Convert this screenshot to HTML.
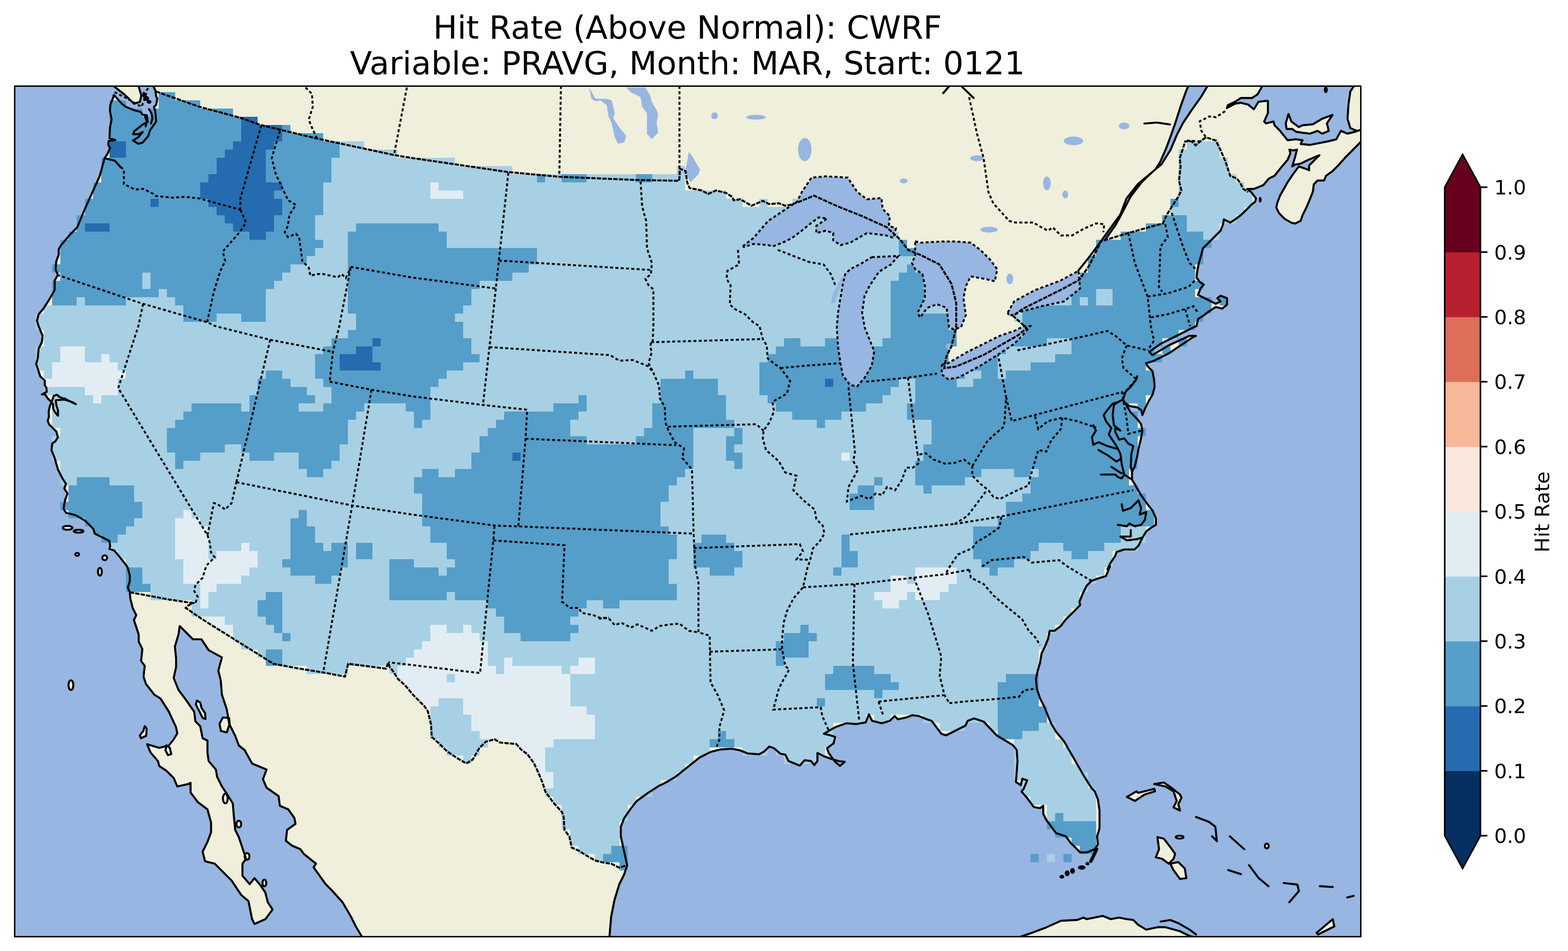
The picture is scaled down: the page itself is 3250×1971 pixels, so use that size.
<!DOCTYPE html>
<html><head><meta charset="utf-8"><style>html,body{margin:0;padding:0;background:#fff;overflow:hidden}svg{display:block}</style></head>
<body>
<svg xmlns="http://www.w3.org/2000/svg" width="3250" height="1971" viewBox="0 0 3250 1971">
<rect width="3250" height="1971" fill="#fff"/>
<g font-family="DejaVu Sans, Liberation Sans, sans-serif" font-size="66.67" text-anchor="middle" fill="#000">
<text x="1425" y="80">Hit Rate (Above Normal): CWRF</text>
<text x="1425" y="154">Variable: PRAVG, Month: MAR, Start: 0121</text>
</g>
<clipPath id="ax"><rect x="30.4" y="178.5" width="2790.1" height="1762.8"/></clipPath>
<g clip-path="url(#ax)">
<rect x="30.4" y="178.5" width="2790.1" height="1762.8" fill="#efefdb"/>
<path fill="#97b6e1" d="M25.4 173.5 L235.0 178.0 L257.0 195.0 L278.0 215.0 L290.0 211.0 L293.0 198.0 L287.0 178.0 L317.5 178.0 L321.8 186.7 L323.6 199.8 L326.2 204.1 L323.6 217.2 L319.2 221.5 L321.8 230.2 L323.6 252.0 L317.5 260.7 L311.4 269.4 L307.0 282.4 L295.7 295.5 L287.0 298.1 L275.7 291.1 L287.0 284.2 L295.7 273.7 L287.0 278.1 L275.7 278.1 L278.3 272.0 L295.7 258.1 L306.2 252.8 L304.4 238.9 L295.7 238.0 L291.4 232.0 L278.3 228.5 L260.9 221.5 L252.2 214.6 L236.6 197.1 L236.6 197.1 L228.7 217.2 L227.9 230.2 L231.3 247.6 L227.9 265.0 L227.0 286.8 L239.2 290.3 L225.2 292.0 L224.4 299.8 L227.9 306.8 L223.3 318.0 L216.7 328.0 L206.7 364.7 L193.3 394.7 L176.7 431.3 L160.0 471.3 L146.7 484.7 L126.7 508.0 L121.7 516.3 L121.7 528.0 L116.7 541.3 L115.0 558.0 L120.0 569.7 L113.3 581.3 L113.3 601.3 L101.7 621.3 L90.0 639.7 L80.0 651.3 L76.7 664.7 L80.0 676.0 L88.3 696.0 L86.7 709.3 L80.0 722.7 L78.3 742.7 L75.0 754.3 L83.4 780.0 L92.8 788.7 L92.8 798.7 L96.1 803.4 L96.8 812.1 L86.7 817.5 L93.4 817.5 L98.8 825.5 L106.8 833.5 L102.8 843.6 L100.8 853.6 L101.5 863.7 L98.8 872.4 L102.1 880.0 L105.0 882.7 L116.7 894.3 L120.0 906.0 L115.0 914.3 L108.3 919.3 L106.7 932.7 L113.3 949.3 L120.0 972.7 L130.0 992.7 L136.7 1002.7 L133.3 1012.7 L140.0 1022.7 L135.0 1036.0 L131.7 1054.3 L136.7 1062.7 L156.7 1067.7 L176.7 1079.3 L193.3 1096.0 L196.7 1106.0 L210.0 1112.7 L226.7 1121.0 L228.3 1132.7 L226.7 1137.7 L236.7 1141.0 L246.7 1152.7 L260.0 1169.3 L263.3 1174.0 L265.0 1177.5 L269.0 1192.5 L269.0 1205.0 L265.0 1217.5 L269.0 1227.5 L270.0 1240.0 L275.0 1260.0 L282.5 1275.0 L277.5 1285.0 L287.5 1315.0 L287.5 1330.0 L295.0 1345.0 L292.5 1370.0 L300.0 1380.0 L297.5 1402.5 L302.5 1417.5 L320.0 1440.0 L332.5 1447.5 L350.0 1475.0 L365.0 1507.5 L367.5 1520.0 L360.0 1532.5 L350.0 1545.0 L330.0 1550.0 L305.0 1542.5 L310.0 1555.0 L312.5 1560.0 L327.5 1577.5 L330.0 1587.5 L345.0 1597.5 L360.0 1612.5 L367.5 1630.0 L390.0 1625.0 L395.0 1622.5 L395.0 1642.5 L410.0 1662.5 L430.0 1677.5 L437.5 1705.0 L437.5 1725.0 L430.0 1745.0 L420.0 1765.0 L425.0 1785.0 L445.0 1790.0 L465.0 1810.0 L480.0 1825.0 L500.0 1855.0 L515.0 1867.5 L522.5 1905.0 L527.5 1915.0 L550.0 1905.0 L565.0 1885.0 L555.0 1870.0 L550.0 1850.0 L540.0 1835.0 L527.5 1820.0 L517.5 1832.5 L502.5 1815.0 L502.5 1790.0 L510.0 1780.0 L495.0 1735.0 L487.5 1720.0 L485.0 1695.0 L482.5 1665.0 L470.0 1645.0 L460.0 1630.0 L450.0 1610.0 L447.5 1595.0 L432.5 1577.5 L430.0 1560.0 L430.0 1535.0 L420.0 1530.0 L415.0 1505.0 L405.0 1495.0 L402.5 1475.0 L385.0 1450.0 L370.0 1430.0 L360.0 1405.0 L365.0 1382.5 L365.0 1365.0 L362.5 1340.0 L370.0 1315.0 L372.5 1297.5 L380.0 1305.0 L400.0 1325.0 L417.5 1325.0 L432.5 1347.5 L460.0 1362.5 L452.5 1390.0 L457.5 1410.0 L460.0 1440.0 L470.0 1470.0 L472.5 1485.0 L475.0 1500.0 L487.5 1525.0 L495.0 1545.0 L507.5 1555.0 L510.0 1560.0 L522.5 1582.5 L552.5 1595.0 L545.0 1615.0 L552.5 1632.5 L577.5 1650.0 L580.0 1670.0 L597.5 1677.5 L610.0 1695.0 L612.5 1707.5 L595.0 1720.0 L592.5 1742.5 L605.0 1752.5 L622.5 1760.0 L630.0 1770.0 L655.0 1790.0 L650.0 1797.5 L662.5 1815.0 L675.0 1832.5 L687.5 1845.0 L710.0 1870.0 L727.5 1900.0 L737.5 1920.0 L750.0 1941.0 L752.0 1946.3 L25.4 1946.3Z M1263.3 1941.0 L1266.7 1900.0 L1273.3 1866.7 L1283.3 1833.3 L1293.3 1813.3 L1300.0 1793.3 L1293.3 1763.3 L1286.7 1733.3 L1286.7 1713.3 L1293.3 1696.7 L1306.7 1676.7 L1320.0 1660.0 L1343.3 1643.3 L1366.7 1628.3 L1383.3 1620.0 L1400.0 1610.0 L1416.7 1596.7 L1433.3 1583.3 L1450.0 1570.0 L1473.3 1558.3 L1493.3 1553.3 L1516.7 1551.7 L1533.3 1555.0 L1550.0 1561.7 L1573.3 1563.3 L1584.3 1557.3 L1594.3 1547.3 L1604.3 1550.7 L1617.7 1562.3 L1627.7 1564.0 L1634.3 1577.3 L1657.7 1586.7 L1667.7 1575.7 L1681.0 1577.3 L1687.7 1585.7 L1694.3 1577.3 L1694.3 1560.7 L1707.7 1567.3 L1721.0 1572.3 L1737.7 1577.3 L1751.0 1579.0 L1741.0 1587.3 L1731.0 1579.0 L1717.7 1560.7 L1714.3 1550.7 L1727.7 1540.7 L1731.0 1527.3 L1721.0 1524.0 L1707.7 1520.7 L1731.0 1507.3 L1754.3 1499.0 L1774.3 1500.7 L1794.3 1497.3 L1801.0 1480.7 L1807.7 1494.0 L1827.7 1499.0 L1844.3 1494.0 L1854.3 1484.0 L1861.0 1490.7 L1877.7 1487.3 L1891.0 1482.3 L1904.3 1484.0 L1921.0 1490.7 L1931.0 1494.0 L1941.0 1507.3 L1951.0 1520.7 L1961.0 1524.0 L1981.0 1514.0 L2001.0 1504.0 L2005.7 1494.0 L2019.0 1489.0 L2039.0 1495.7 L2065.7 1524.0 L2082.3 1534.0 L2099.0 1544.0 L2107.3 1554.0 L2109.0 1577.3 L2107.3 1600.7 L2105.7 1620.7 L2115.7 1627.3 L2119.0 1614.0 L2129.0 1617.3 L2122.3 1634.0 L2117.3 1640.7 L2129.0 1654.0 L2142.3 1672.0 L2145.7 1673.3 L2155.7 1675.0 L2162.3 1670.0 L2162.3 1686.7 L2169.0 1700.0 L2179.0 1713.3 L2189.0 1726.7 L2209.0 1733.3 L2219.0 1746.7 L2232.3 1760.0 L2239.0 1766.7 L2252.3 1766.7 L2269.0 1760.0 L2275.7 1750.0 L2274.0 1733.3 L2279.0 1716.7 L2279.0 1680.0 L2275.7 1656.7 L2269.0 1640.0 L2262.3 1633.3 L2245.7 1606.7 L2232.3 1583.3 L2219.0 1560.0 L2205.7 1536.7 L2189.0 1516.7 L2179.0 1500.0 L2172.3 1484.0 L2165.7 1467.3 L2155.7 1447.3 L2149.0 1427.3 L2147.3 1407.3 L2150.7 1390.7 L2155.7 1374.0 L2159.0 1354.0 L2165.7 1340.7 L2172.3 1324.0 L2175.7 1307.3 L2185.7 1307.3 L2199.0 1297.3 L2209.0 1284.0 L2222.3 1270.7 L2239.0 1254.0 L2237.3 1247.3 L2244.0 1230.7 L2252.3 1214.0 L2262.3 1204.0 L2275.7 1199.0 L2292.3 1194.0 L2300.7 1174.0 L2295.5 1180.0 L2300.9 1168.2 L2311.6 1152.2 L2314.3 1144.1 L2330.3 1138.8 L2351.7 1138.8 L2359.8 1130.7 L2367.8 1114.7 L2375.8 1101.3 L2386.5 1093.3 L2395.9 1087.9 L2395.9 1074.5 L2389.2 1058.5 L2378.5 1045.1 L2365.1 1026.3 L2354.4 1007.6 L2346.4 994.2 L2346.4 978.1 L2351.7 967.4 L2357.1 946.0 L2359.8 929.9 L2365.1 908.5 L2367.8 892.4 L2365.1 879.1 L2357.1 868.4 L2343.7 855.0 L2335.7 841.6 L2327.6 828.2 L2330.3 833.5 L2341.0 841.6 L2357.1 844.3 L2365.1 849.6 L2367.8 860.3 L2373.2 846.9 L2381.2 830.9 L2389.2 817.5 L2393.2 801.4 L2392.0 786.0 L2388.7 769.3 L2378.7 759.3 L2375.3 752.7 L2392.0 747.7 L2422.0 732.7 L2472.0 699.3 L2478.7 696.0 L2465.3 696.0 L2422.0 716.0 L2388.7 736.0 L2382.0 729.3 L2405.3 712.7 L2438.7 696.0 L2478.7 676.0 L2480.0 676.0 L2483.3 661.3 L2493.3 654.7 L2506.7 644.7 L2520.0 636.3 L2533.3 639.7 L2543.3 631.3 L2543.3 618.0 L2530.0 613.0 L2523.3 618.0 L2530.0 624.7 L2520.0 629.7 L2510.0 624.7 L2496.7 618.0 L2483.3 611.3 L2488.3 598.0 L2495.0 589.7 L2486.7 584.7 L2480.0 574.7 L2481.7 561.3 L2485.0 544.7 L2490.0 528.0 L2493.3 514.7 L2500.0 508.0 L2510.0 498.0 L2520.0 488.0 L2530.0 478.0 L2535.0 464.7 L2536.7 454.7 L2550.0 461.3 L2560.0 454.7 L2573.3 444.7 L2583.3 434.7 L2593.3 424.7 L2601.7 418.0 L2603.3 411.3 L2593.3 398.0 L2585.2 391.6 L2598.8 391.6 L2618.3 383.8 L2629.9 370.2 L2641.6 364.4 L2657.1 345.0 L2668.7 331.4 L2674.6 317.8 L2672.6 310.0 L2680.4 312.0 L2688.2 310.0 L2684.3 325.6 L2678.4 345.0 L2684.3 341.1 L2695.9 339.2 L2711.5 331.4 L2734.8 321.7 L2725.0 331.4 L2713.4 343.0 L2713.4 352.8 L2703.7 348.9 L2692.0 345.0 L2680.4 360.5 L2668.7 378.0 L2661.0 391.6 L2653.2 405.2 L2647.4 420.7 L2645.4 430.4 L2651.3 442.1 L2662.9 453.7 L2676.5 461.5 L2684.3 463.4 L2695.9 457.6 L2699.8 446.0 L2707.6 430.4 L2713.4 416.8 L2721.2 397.4 L2723.1 381.9 L2730.9 374.1 L2744.5 374.1 L2748.3 364.4 L2761.9 354.7 L2773.6 343.0 L2789.1 325.6 L2804.7 310.0 L2820.0 294.5 L2825.5 291.0 L2825.5 1946.3 L1263.0 1946.3Z M2699.8 290.6 L2686.2 288.7 L2668.7 290.6 L2653.2 271.2 L2641.6 259.6 L2639.6 251.8 L2624.1 255.7 L2620.2 251.8 L2628.0 234.3 L2628.0 209.1 L2624.1 209.1 L2608.5 211.0 L2598.8 226.5 L2587.2 216.8 L2571.7 213.0 L2560.0 214.9 L2543.0 224.0 L2545.0 218.0 L2560.0 211.0 L2571.7 203.2 L2595.0 203.2 L2606.6 195.5 L2614.4 181.9 L2616.3 178.0 L2806.6 178.0 L2798.8 189.7 L2795.0 216.8 L2793.0 246.0 L2798.8 265.4 L2812.4 271.2 L2820.0 269.3 L2808.5 273.1 L2793.0 277.0 L2779.4 271.2 L2769.7 288.7 L2754.2 292.6 L2734.8 296.5 L2715.3 300.3 L2695.9 298.4Z M2282.0 500.0 L2305.0 468.0 L2322.0 445.0 L2335.0 411.0 L2359.0 381.0 L2372.0 370.0 L2395.0 351.0 L2405.0 335.0 L2418.0 305.0 L2428.0 278.0 L2436.0 255.0 L2448.0 218.0 L2458.0 190.0 L2463.0 178.0 L2503.0 178.0 L2490.0 200.0 L2470.0 228.0 L2452.0 255.0 L2440.0 278.0 L2426.0 311.0 L2407.0 341.0 L2390.0 355.0 L2366.0 378.0 L2343.0 408.0 L2326.0 441.0 L2313.0 465.0 L2290.0 498.0Z"/>
<path fill="#efefdb" d="M2670.7 236.3 L2676.5 251.8 L2692.0 263.4 L2699.8 259.6 L2721.2 257.6 L2740.6 246.0 L2761.9 238.3 L2750.3 255.7 L2754.2 271.2 L2740.6 277.0 L2730.9 271.2 L2715.3 277.0 L2699.8 275.1 L2686.2 273.1 L2678.4 267.3 L2666.8 267.3 L2664.9 255.7Z M2335.7 1651.7 L2352.3 1660.0 L2372.3 1646.7 L2394.0 1640.0 L2392.3 1635.0 L2359.0 1643.3 L2355.7 1640.0Z M2392.3 1625.0 L2412.3 1621.7 L2429.0 1633.3 L2445.7 1646.7 L2449.0 1653.3 L2442.3 1666.7 L2445.7 1680.0 L2432.3 1673.3 L2439.0 1660.0 L2432.3 1640.0 L2415.7 1630.0Z M2399.0 1735.0 L2412.3 1738.3 L2429.0 1760.0 L2435.7 1770.0 L2432.3 1780.0 L2422.3 1790.0 L2409.0 1780.0 L2395.7 1776.7 L2402.3 1760.0Z M2425.7 1790.0 L2442.3 1786.7 L2455.7 1800.0 L2459.0 1820.0 L2445.7 1821.7 L2432.3 1803.3Z M2729.0 1933.3 L2762.3 1905.0 L2765.7 1920.0 L2732.3 1936.7Z M2115.7 1941.3 L2139.0 1933.3 L2165.7 1923.3 L2199.0 1908.3 L2232.3 1906.7 L2245.7 1901.7 L2252.3 1905.0 L2285.7 1898.3 L2302.3 1905.0 L2319.0 1901.7 L2335.7 1905.0 L2349.0 1906.7 L2359.0 1916.7 L2375.7 1926.7 L2399.0 1921.7 L2415.7 1921.7 L2445.7 1930.0 L2465.7 1940.0 L2472.3 1941.3 L2472.0 1960.0 L2115.0 1960.0Z M462.0 1487.0 L475.0 1488.0 L476.0 1500.0 L470.0 1518.0 L458.0 1515.0 L455.0 1500.0Z M408.0 1452.0 L415.0 1456.0 L418.0 1468.0 L425.0 1478.0 L426.0 1490.0 L420.0 1488.0 L412.0 1472.0 L406.0 1460.0Z M300.0 1505.0 L304.0 1510.0 L303.0 1525.0 L292.0 1530.0 L290.0 1524.0 L297.0 1515.0Z M345.0 1545.0 L352.0 1550.0 L355.0 1563.0 L348.0 1565.0 L343.0 1555.0Z M142 1420a5 10 0 1 0 10 0a5 10 0 1 0 -10 0Z M130 1094a10 4 0 1 0 20 0a10 4 0 1 0 -20 0Z M153 1101a10 3 0 1 0 20 0a10 3 0 1 0 -20 0Z M156 1149a4 3 0 1 0 8 0a4 3 0 1 0 -8 0Z M212 1156a5 5 0 1 0 10 0a5 5 0 1 0 -10 0Z M203 1185a4 8 0 1 0 8 0a4 8 0 1 0 -8 0Z M462 1655a5 10 0 1 0 10 0a5 10 0 1 0 -10 0Z M490 1708a5 7 0 1 0 10 0a5 7 0 1 0 -10 0Z M507 1775a5 7 0 1 0 10 0a5 7 0 1 0 -10 0Z M544 1830a4 7 0 1 0 8 0a4 7 0 1 0 -8 0Z M2437 1735a8 3 0 1 0 16 0a8 3 0 1 0 -16 0Z M2621.7 1753.3a4 5 0 1 0 8 0a4 5 0 1 0 -8 0Z"/>
<path fill="#256baf" d="M500 242h34v17h-34zM500 259h85v17h-85zM500 276h85v17h-85zM227 293h34v17h-34zM483 293h85v17h-85zM227 310h34v17h-34zM466 310h85v17h-85zM449 327h102v17h-102zM449 344h102v17h-102zM432 361h119v17h-119zM415 378h170v17h-170zM415 395h153v17h-153zM312 412h17v17h-17zM432 412h153v17h-153zM449 429h136v17h-136zM466 446h102v17h-102zM176 463h51v17h-51zM483 463h85v17h-85zM517 480h34v17h-34zM772 701h17v17h-17zM738 718h34v16h-34zM704 734h68v17h-68zM704 751h85v17h-85zM1710 785h17v17h-17zM1062 938h17v17h-17z"/>
<path fill="#559ec9" d="M329 191h34v17h-34zM227 208h34v17h-34zM329 208h86v17h-86zM227 225h68v17h-68zM312 225h171v17h-171zM227 242h273v17h-273zM227 259h273v17h-273zM585 259h17v17h-17zM227 276h273v17h-273zM585 276h85v17h-85zM261 293h222v17h-222zM568 293h136v17h-136zM261 310h205v17h-205zM551 310h153v17h-153zM210 327h239v17h-239zM551 327h136v17h-136zM210 344h239v17h-239zM551 344h136v17h-136zM210 361h222v17h-222zM551 361h136v17h-136zM1113 361h17v17h-17zM1164 361h52v17h-52zM1318 361h34v17h-34zM193 378h222v17h-222zM585 378h85v17h-85zM193 395h222v17h-222zM568 395h102v17h-102zM176 412h136v17h-136zM329 412h103v17h-103zM585 412h85v17h-85zM2426 412h17v17h-17zM176 429h273v17h-273zM585 429h85v17h-85zM159 446h307v17h-307zM568 446h85v17h-85zM2409 446h51v17h-51zM159 463h17v17h-17zM227 463h256v17h-256zM568 463h85v17h-85zM738 463h171v17h-171zM2375 463h85v17h-85zM142 480h375v17h-375zM551 480h102v17h-102zM721 480h205v17h-205zM2323 480h171v17h-171zM125 497h545v17h-545zM721 497h205v17h-205zM1863 497h17v17h-17zM2272 497h239v17h-239zM125 514h528v17h-528zM721 514h392v17h-392zM1863 514h34v17h-34zM2272 514h222v17h-222zM125 531h511v17h-511zM721 531h392v17h-392zM2255 531h239v17h-239zM108 548h494v17h-494zM721 548h375v17h-375zM1880 548h17v17h-17zM2255 548h222v17h-222zM125 565h170v17h-170zM312 565h273v17h-273zM721 565h341v17h-341zM1863 565h51v17h-51zM2238 565h239v17h-239zM108 582h187v17h-187zM312 582h256v17h-256zM721 582h273v17h-273zM1846 582h68v17h-68zM2238 582h256v17h-256zM108 599h221v17h-221zM346 599h205v17h-205zM721 599h256v17h-256zM1846 599h85v17h-85zM2221 599h51v17h-51zM2306 599h171v17h-171zM108 616h51v17h-51zM176 616h85v17h-85zM363 616h188v17h-188zM721 616h256v17h-256zM1846 616h68v17h-68zM2221 616h17v17h-17zM2255 616h17v17h-17zM2306 616h205v17h-205zM2528 616h17v17h-17zM380 633h171v17h-171zM721 633h239v17h-239zM1846 633h68v17h-68zM2119 633h392v17h-392zM380 650h69v17h-69zM500 650h51v17h-51zM738 650h205v17h-205zM1846 650h120v17h-120zM2119 650h375v17h-375zM738 667h222v17h-222zM1846 667h120v17h-120zM2119 667h358v17h-358zM721 684h239v17h-239zM1744 684h51v17h-51zM1846 684h137v17h-137zM2119 684h324v17h-324zM687 701h85v17h-85zM789 701h188v17h-188zM1625 701h34v17h-34zM1710 701h85v17h-85zM1829 701h154v17h-154zM2085 701h85v17h-85zM2221 701h188v17h-188zM2443 701h17v17h-17zM670 718h68v16h-68zM772 718h205v16h-205zM1608 718h358v16h-358zM2051 718h34v16h-34zM2221 718h171v16h-171zM2409 718h17v16h-17zM653 734h51v17h-51zM772 734h222v17h-222zM1591 734h375v17h-375zM2017 734h51v17h-51zM2187 734h222v17h-222zM653 751h51v17h-51zM789 751h171v17h-171zM1574 751h392v17h-392zM1983 751h85v17h-85zM2136 751h239v17h-239zM551 768h34v17h-34zM653 768h273v17h-273zM1420 768h17v17h-17zM1574 768h426v17h-426zM2034 768h34v17h-34zM2085 768h307v17h-307zM534 785h68v17h-68zM670 785h239v17h-239zM1369 785h119v17h-119zM1574 785h136v17h-136zM1727 785h136v17h-136zM1897 785h86v17h-86zM2017 785h375v17h-375zM534 802h102v17h-102zM687 802h205v17h-205zM1369 802h119v17h-119zM1574 802h272v17h-272zM1897 802h495v17h-495zM517 819h136v17h-136zM687 819h205v17h-205zM1199 819h17v17h-17zM1369 819h136v17h-136zM1591 819h238v17h-238zM1897 819h478v17h-478zM397 836h103v17h-103zM517 836h102v17h-102zM670 836h85v17h-85zM841 836h51v17h-51zM1147 836h69v17h-69zM1352 836h153v17h-153zM1608 836h187v17h-187zM1880 836h460v17h-460zM2358 836h17v17h-17zM380 853h358v17h-358zM858 853h34v17h-34zM1045 853h154v17h-154zM1352 853h153v17h-153zM1642 853h102v17h-102zM1880 853h478v17h-478zM363 870h358v17h-358zM858 870h17v17h-17zM1028 870h154v17h-154zM1352 870h170v17h-170zM1693 870h17v17h-17zM1931 870h427v17h-427zM346 887h375v17h-375zM1011 887h171v17h-171zM1335 887h102v17h-102zM1522 887h17v17h-17zM1931 887h444v17h-444zM346 904h375v17h-375zM994 904h222v17h-222zM1318 904h119v17h-119zM1505 904h34v17h-34zM1931 904h427v17h-427zM346 921h120v17h-120zM500 921h204v17h-204zM994 921h443v17h-443zM1505 921h17v17h-17zM1914 921h444v17h-444zM363 938h52v17h-52zM517 938h51v17h-51zM619 938h85v17h-85zM977 938h85v17h-85zM1079 938h358v17h-358zM1505 938h34v17h-34zM1914 938h444v17h-444zM363 955h17v17h-17zM619 955h68v17h-68zM977 955h460v17h-460zM1522 955h17v17h-17zM1897 955h461v17h-461zM636 972h34v17h-34zM875 972h34v17h-34zM943 972h477v17h-477zM1897 972h137v17h-137zM2102 972h34v17h-34zM2153 972h187v17h-187zM159 989h68v17h-68zM858 989h545v17h-545zM1812 989h17v17h-17zM1897 989h103v17h-103zM2136 989h204v17h-204zM142 1006h136v17h-136zM858 1006h528v17h-528zM1778 1006h34v17h-34zM1914 1006h17v17h-17zM2136 1006h222v17h-222zM142 1023h136v17h-136zM875 1023h511v17h-511zM1761 1023h51v17h-51zM2119 1023h256v17h-256zM125 1040h170v17h-170zM875 1040h494v17h-494zM1761 1040h51v17h-51zM2085 1040h290v17h-290zM142 1057h153v17h-153zM619 1057h17v17h-17zM875 1057h494v17h-494zM2085 1057h307v17h-307zM176 1074h102v17h-102zM602 1074h34v17h-34zM875 1074h494v17h-494zM2068 1074h324v17h-324zM193 1091h68v17h-68zM602 1091h51v17h-51zM892 1091h494v17h-494zM2017 1091h306v17h-306zM210 1108h34v17h-34zM602 1108h51v17h-51zM892 1108h511v17h-511zM1454 1108h51v17h-51zM1744 1108h17v17h-17zM2017 1108h306v17h-306zM602 1125h68v17h-68zM687 1125h34v17h-34zM738 1125h34v17h-34zM926 1125h477v17h-477zM1437 1125h85v17h-85zM1744 1125h17v17h-17zM2017 1125h136v17h-136zM2204 1125h85v17h-85zM602 1142h119v17h-119zM738 1142h34v17h-34zM926 1142h477v17h-477zM1437 1142h102v17h-102zM1744 1142h34v17h-34zM2017 1142h119v17h-119zM2221 1142h34v17h-34zM585 1159h136v17h-136zM807 1159h51v17h-51zM943 1159h443v17h-443zM1437 1159h102v17h-102zM1744 1159h34v17h-34zM2034 1159h68v17h-68zM261 1176h34v17h-34zM602 1176h102v17h-102zM807 1176h102v17h-102zM926 1176h460v17h-460zM1471 1176h51v17h-51zM1727 1176h17v17h-17zM2051 1176h17v17h-17zM261 1193h34v17h-34zM653 1193h34v17h-34zM807 1193h579v17h-579zM261 1210h51v17h-51zM807 1210h596v17h-596zM551 1227h34v17h-34zM807 1227h119v17h-119zM943 1227h460v17h-460zM534 1244h51v17h-51zM1011 1244h205v17h-205zM1250 1244h34v17h-34zM534 1261h51v17h-51zM1028 1261h171v17h-171zM551 1278h34v17h-34zM1045 1278h137v17h-137zM568 1295h17v17h-17zM1045 1295h154v17h-154zM1659 1295h17v17h-17zM585 1312h17v17h-17zM1079 1312h103v17h-103zM1625 1312h68v17h-68zM1608 1329h68v17h-68zM551 1346h34v17h-34zM1608 1346h68v17h-68zM551 1363h34v17h-34zM1608 1363h17v17h-17zM1727 1380h85v17h-85zM1710 1397h136v17h-136zM2085 1397h68v17h-68zM1710 1414h153v16h-153zM2068 1414h85v16h-85zM1812 1430h17v17h-17zM2068 1430h85v17h-85zM1693 1447h17v17h-17zM2068 1447h85v17h-85zM2068 1464h102v17h-102zM2068 1481h102v17h-102zM2068 1498h85v17h-85zM1488 1515h17v17h-17zM2068 1515h51v17h-51zM1471 1532h51v17h-51zM2187 1685h17v17h-17zM2170 1702h102v17h-102zM2187 1719h85v17h-85zM2221 1736h51v17h-51zM1267 1753h34v17h-34zM2238 1753h34v17h-34zM1250 1770h51v17h-51zM2136 1770h17v17h-17zM2204 1770h17v17h-17zM1284 1787h17v17h-17z"/>
<path fill="#a7d0e4" d="M704 293h51v17h-51zM2460 293h68v17h-68zM704 310h120v17h-120zM2443 310h85v17h-85zM687 327h256v17h-256zM2443 327h102v17h-102zM687 344h375v17h-375zM1403 344h17v17h-17zM2443 344h102v17h-102zM687 361h426v17h-426zM1130 361h34v17h-34zM1216 361h102v17h-102zM1352 361h68v17h-68zM2443 361h119v17h-119zM670 378h222v17h-222zM909 378h511v17h-511zM2443 378h136v17h-136zM670 395h222v17h-222zM960 395h545v17h-545zM2443 395h153v17h-153zM670 412h869v17h-869zM1574 412h17v17h-17zM1642 412h85v17h-85zM2443 412h153v17h-153zM670 429h1091v17h-1091zM2426 429h153v17h-153zM653 446h1142v17h-1142zM2460 446h102v17h-102zM653 463h85v17h-85zM909 463h937v17h-937zM2460 463h68v17h-68zM653 480h68v17h-68zM926 480h937v17h-937zM2494 480h34v17h-34zM670 497h51v17h-51zM926 497h937v17h-937zM653 514h68v17h-68zM1113 514h750v17h-750zM636 531h85v17h-85zM1113 531h818v17h-818zM602 548h119v17h-119zM1096 548h784v17h-784zM1897 548h51v17h-51zM295 565h17v17h-17zM585 565h136v17h-136zM1062 565h801v17h-801zM1914 565h52v17h-52zM295 582h17v17h-17zM568 582h153v17h-153zM994 582h852v17h-852zM1914 582h52v17h-52zM2221 582h17v17h-17zM329 599h17v17h-17zM551 599h170v17h-170zM977 599h869v17h-869zM1931 599h52v17h-52zM2187 599h34v17h-34zM2272 599h34v17h-34zM159 616h17v17h-17zM261 616h102v17h-102zM551 616h170v17h-170zM977 616h869v17h-869zM1914 616h69v17h-69zM2153 616h68v17h-68zM2238 616h17v17h-17zM2272 616h34v17h-34zM91 633h289v17h-289zM551 633h170v17h-170zM960 633h886v17h-886zM1914 633h69v17h-69zM74 650h306v17h-306zM449 650h51v17h-51zM551 650h187v17h-187zM943 650h903v17h-903zM1966 650h17v17h-17zM2102 650h17v17h-17zM74 667h664v17h-664zM960 667h886v17h-886zM1966 667h17v17h-17zM91 684h630v17h-630zM960 684h784v17h-784zM1795 684h51v17h-51zM91 701h596v17h-596zM977 701h648v17h-648zM1659 701h51v17h-51zM1795 701h34v17h-34zM2170 701h51v17h-51zM74 718h51v16h-51zM176 718h494v16h-494zM977 718h631v16h-631zM2085 718h136v16h-136zM74 734h51v17h-51zM176 734h34v17h-34zM227 734h426v17h-426zM994 734h597v17h-597zM2068 734h119v17h-119zM74 751h34v17h-34zM244 751h409v17h-409zM960 751h614v17h-614zM2068 751h68v17h-68zM91 768h17v17h-17zM261 768h290v17h-290zM585 768h68v17h-68zM926 768h494v17h-494zM1437 768h137v17h-137zM2000 768h34v17h-34zM2068 768h17v17h-17zM244 785h290v17h-290zM602 785h68v17h-68zM909 785h460v17h-460zM1488 785h86v17h-86zM1863 785h34v17h-34zM1983 785h34v17h-34zM91 802h85v17h-85zM244 802h290v17h-290zM636 802h51v17h-51zM892 802h477v17h-477zM1488 802h86v17h-86zM1846 802h51v17h-51zM108 819h85v17h-85zM210 819h307v17h-307zM653 819h34v17h-34zM892 819h307v17h-307zM1216 819h153v17h-153zM1505 819h86v17h-86zM1829 819h68v17h-68zM108 836h289v17h-289zM500 836h17v17h-17zM619 836h51v17h-51zM755 836h86v17h-86zM892 836h255v17h-255zM1216 836h136v17h-136zM1505 836h103v17h-103zM1795 836h85v17h-85zM108 853h272v17h-272zM738 853h120v17h-120zM892 853h153v17h-153zM1199 853h153v17h-153zM1505 853h137v17h-137zM1744 853h136v17h-136zM108 870h255v17h-255zM721 870h137v17h-137zM875 870h153v17h-153zM1182 870h170v17h-170zM1522 870h171v17h-171zM1710 870h221v17h-221zM125 887h221v17h-221zM721 887h290v17h-290zM1182 887h153v17h-153zM1437 887h85v17h-85zM1539 887h392v17h-392zM108 904h238v17h-238zM721 904h273v17h-273zM1216 904h102v17h-102zM1437 904h68v17h-68zM1539 904h392v17h-392zM108 921h238v17h-238zM466 921h34v17h-34zM704 921h290v17h-290zM1437 921h68v17h-68zM1522 921h392v17h-392zM108 938h255v17h-255zM415 938h102v17h-102zM568 938h51v17h-51zM704 938h273v17h-273zM1437 938h68v17h-68zM1539 938h205v17h-205zM1761 938h153v17h-153zM125 955h238v17h-238zM380 955h239v17h-239zM687 955h290v17h-290zM1437 955h85v17h-85zM1539 955h358v17h-358zM125 972h511v17h-511zM670 972h205v17h-205zM909 972h34v17h-34zM1420 972h477v17h-477zM2034 972h68v17h-68zM2136 972h17v17h-17zM125 989h34v17h-34zM227 989h631v17h-631zM1403 989h409v17h-409zM1829 989h68v17h-68zM2000 989h136v17h-136zM278 1006h580v17h-580zM1386 1006h392v17h-392zM1812 1006h102v17h-102zM1931 1006h205v17h-205zM278 1023h597v17h-597zM1386 1023h375v17h-375zM1812 1023h307v17h-307zM295 1040h580v17h-580zM1369 1040h392v17h-392zM1812 1040h273v17h-273zM295 1057h85v17h-85zM397 1057h222v17h-222zM636 1057h239v17h-239zM1369 1057h716v17h-716zM278 1074h85v17h-85zM415 1074h187v17h-187zM636 1074h239v17h-239zM1369 1074h699v17h-699zM261 1091h102v17h-102zM432 1091h170v17h-170zM653 1091h239v17h-239zM1386 1091h631v17h-631zM2323 1091h52v17h-52zM244 1108h119v17h-119zM432 1108h170v17h-170zM653 1108h239v17h-239zM1403 1108h51v17h-51zM1505 1108h239v17h-239zM1761 1108h256v17h-256zM2323 1108h52v17h-52zM227 1125h136v17h-136zM432 1125h68v17h-68zM517 1125h85v17h-85zM670 1125h17v17h-17zM721 1125h17v17h-17zM772 1125h154v17h-154zM1403 1125h34v17h-34zM1522 1125h222v17h-222zM1761 1125h256v17h-256zM2153 1125h51v17h-51zM2289 1125h69v17h-69zM244 1142h119v17h-119zM432 1142h17v17h-17zM534 1142h68v17h-68zM721 1142h17v17h-17zM772 1142h154v17h-154zM1403 1142h34v17h-34zM1539 1142h205v17h-205zM1778 1142h239v17h-239zM2136 1142h85v17h-85zM2255 1142h51v17h-51zM261 1159h119v17h-119zM534 1159h51v17h-51zM721 1159h86v17h-86zM858 1159h85v17h-85zM1386 1159h51v17h-51zM1539 1159h205v17h-205zM1778 1159h256v17h-256zM2102 1159h204v17h-204zM295 1176h85v17h-85zM517 1176h85v17h-85zM704 1176h103v17h-103zM909 1176h17v17h-17zM1386 1176h85v17h-85zM1522 1176h205v17h-205zM1744 1176h153v17h-153zM1983 1176h68v17h-68zM2068 1176h221v17h-221zM295 1193h85v17h-85zM500 1193h153v17h-153zM687 1193h120v17h-120zM1386 1193h460v17h-460zM1880 1193h17v17h-17zM1983 1193h289v17h-289zM312 1210h103v17h-103zM449 1210h358v17h-358zM1403 1210h443v17h-443zM1966 1210h289v17h-289zM312 1227h103v17h-103zM432 1227h119v17h-119zM585 1227h222v17h-222zM926 1227h17v17h-17zM1403 1227h409v17h-409zM1880 1227h17v17h-17zM1948 1227h290v17h-290zM397 1244h18v17h-18zM432 1244h102v17h-102zM585 1244h426v17h-426zM1216 1244h34v17h-34zM1284 1244h545v17h-545zM1863 1244h375v17h-375zM397 1261h137v17h-137zM585 1261h443v17h-443zM1199 1261h1022v17h-1022zM466 1278h85v17h-85zM585 1278h460v17h-460zM1182 1278h1022v17h-1022zM483 1295h85v17h-85zM585 1295h307v17h-307zM926 1295h34v17h-34zM977 1295h68v17h-68zM1199 1295h460v17h-460zM1676 1295h511v17h-511zM483 1312h102v17h-102zM602 1312h290v17h-290zM994 1312h85v17h-85zM1182 1312h443v17h-443zM1693 1312h477v17h-477zM500 1329h375v17h-375zM1011 1329h597v17h-597zM1676 1329h494v17h-494zM534 1346h17v17h-17zM585 1346h273v17h-273zM1011 1346h597v17h-597zM1676 1346h477v17h-477zM585 1363h256v17h-256zM1011 1363h34v17h-34zM1062 1363h137v17h-137zM1233 1363h375v17h-375zM1625 1363h528v17h-528zM636 1380h85v17h-85zM807 1380h17v17h-17zM1028 1380h17v17h-17zM1164 1380h18v17h-18zM1233 1380h494v17h-494zM1812 1380h341v17h-341zM926 1397h17v17h-17zM1182 1397h528v17h-528zM1846 1397h239v17h-239zM1182 1414h528v16h-528zM1863 1414h205v16h-205zM1182 1430h630v17h-630zM1829 1430h239v17h-239zM909 1447h51v17h-51zM1182 1447h511v17h-511zM1710 1447h358v17h-358zM892 1464h68v17h-68zM1216 1464h852v17h-852zM892 1481h85v17h-85zM1233 1481h562v17h-562zM1812 1481h34v17h-34zM1914 1481h154v17h-154zM892 1498h85v17h-85zM1233 1498h494v17h-494zM1948 1498h52v17h-52zM2051 1498h17v17h-17zM2153 1498h34v17h-34zM892 1515h102v17h-102zM1233 1515h255v17h-255zM1505 1515h222v17h-222zM2119 1515h68v17h-68zM909 1532h102v17h-102zM1147 1532h324v17h-324zM1522 1532h205v17h-205zM2102 1532h102v17h-102zM926 1549h68v17h-68zM1130 1549h341v17h-341zM1539 1549h52v17h-52zM1608 1549h102v17h-102zM2102 1549h119v17h-119zM960 1566h17v17h-17zM1130 1566h307v17h-307zM1625 1566h68v17h-68zM2102 1566h119v17h-119zM1130 1583h290v17h-290zM2102 1583h136v17h-136zM1147 1600h256v17h-256zM2102 1600h153v17h-153zM1147 1617h222v17h-222zM2119 1617h136v17h-136zM1130 1634h222v17h-222zM2119 1634h153v17h-153zM1147 1651h171v17h-171zM2136 1651h136v17h-136zM1164 1668h137v17h-137zM2170 1668h102v17h-102zM1164 1685h137v17h-137zM2170 1685h17v17h-17zM2204 1685h68v17h-68zM1164 1702h120v17h-120zM1182 1719h102v17h-102zM1182 1736h102v17h-102zM1199 1753h68v17h-68zM1233 1770h17v17h-17zM2170 1770h17v17h-17z"/>
<path fill="#e2edf3" d="M892 378h17v17h-17zM892 395h68v17h-68zM125 718h51v16h-51zM125 734h51v17h-51zM210 734h17v17h-17zM108 751h136v17h-136zM108 768h153v17h-153zM91 785h153v17h-153zM176 802h68v17h-68zM193 819h17v17h-17zM1744 938h17v17h-17zM380 1057h17v17h-17zM363 1074h52v17h-52zM363 1091h69v17h-69zM363 1108h69v17h-69zM363 1125h69v17h-69zM500 1125h17v17h-17zM363 1142h69v17h-69zM449 1142h85v17h-85zM380 1159h154v17h-154zM380 1176h137v17h-137zM1897 1176h86v17h-86zM380 1193h120v17h-120zM1846 1193h34v17h-34zM1897 1193h86v17h-86zM415 1210h34v17h-34zM1846 1210h120v17h-120zM415 1227h17v17h-17zM1812 1227h68v17h-68zM1897 1227h51v17h-51zM415 1244h17v17h-17zM1829 1244h34v17h-34zM432 1278h34v17h-34zM449 1295h34v17h-34zM892 1295h34v17h-34zM960 1295h17v17h-17zM892 1312h102v17h-102zM875 1329h136v17h-136zM858 1346h153v17h-153zM841 1363h170v17h-170zM1045 1363h17v17h-17zM1199 1363h34v17h-34zM824 1380h204v17h-204zM1045 1380h119v17h-119zM1182 1380h51v17h-51zM824 1397h102v17h-102zM943 1397h239v17h-239zM841 1414h341v16h-341zM858 1430h324v17h-324zM875 1447h34v17h-34zM960 1447h222v17h-222zM960 1464h256v17h-256zM977 1481h256v17h-256zM977 1498h256v17h-256zM994 1515h239v17h-239zM1062 1532h85v17h-85zM1079 1549h51v17h-51zM1096 1566h34v17h-34zM1113 1583h17v17h-17zM1113 1600h34v17h-34zM1130 1617h17v17h-17z"/>
<path fill="#97b6e1" d="M1539.5 510.5 L1562.0 493.0 L1592.0 458.0 L1622.0 438.0 L1652.0 418.0 L1662.0 398.0 L1682.0 368.0 L1712.0 365.5 L1757.0 368.0 L1777.0 398.0 L1797.0 413.0 L1827.0 410.5 L1829.5 433.0 L1844.5 448.0 L1842.0 468.0 L1857.0 473.0 L1852.0 493.0 L1837.0 488.0 L1797.0 483.0 L1762.0 503.0 L1742.0 508.0 L1727.0 498.0 L1727.0 483.0 L1712.0 478.0 L1692.0 483.0 L1692.0 468.0 L1714.5 453.0 L1697.0 450.5 L1677.0 465.5 L1662.0 478.0 L1642.0 493.0 L1622.0 503.0 L1602.0 510.5 L1592.0 508.0 L1562.0 505.5 L1542.0 512.0Z M1807.0 533.0 L1862.0 530.5 L1847.0 548.0 L1822.0 563.0 L1812.0 578.0 L1802.0 593.0 L1792.0 613.0 L1787.0 648.0 L1792.0 678.0 L1802.0 703.0 L1812.0 728.0 L1807.0 758.0 L1792.0 783.0 L1777.0 800.5 L1762.0 798.0 L1747.0 778.0 L1742.0 753.0 L1737.0 718.0 L1734.5 678.0 L1737.0 648.0 L1742.0 618.0 L1747.0 588.0 L1752.0 568.0 L1762.0 558.0 L1782.0 548.0Z M1722.0 628.0 L1727.0 608.0 L1742.0 578.0 L1754.5 563.0 L1749.5 578.0 L1737.0 608.0 L1729.5 628.0Z M1897.0 500.0 L1907.0 503.0 L1952.0 500.5 L1982.0 500.5 L2012.0 503.0 L2032.0 518.0 L2052.0 538.0 L2067.0 558.0 L2062.0 583.0 L2042.0 578.0 L2012.0 573.0 L2002.0 593.0 L1997.0 618.0 L2002.0 653.0 L1992.0 678.0 L1977.0 683.0 L1967.0 678.0 L1962.0 638.0 L1942.0 630.5 L1922.0 638.0 L1907.0 658.0 L1902.0 648.0 L1917.0 618.0 L1917.0 593.0 L1912.0 568.0 L1897.0 558.0 L1890.0 545.0 L1897.0 530.0Z M1952.0 756.0 L1965.3 752.7 L1982.0 742.7 L2005.3 729.3 L2038.7 712.7 L2072.0 696.0 L2102.0 686.0 L2122.0 676.0 L2135.3 676.0 L2118.7 696.0 L2102.0 712.7 L2072.0 732.7 L2035.3 756.0 L2005.3 772.7 L1985.3 782.7 L1965.3 786.0 L1952.0 776.0Z M2088.7 648.0 L2102.0 624.7 L2145.3 601.3 L2198.7 581.3 L2235.3 561.3 L2238.7 598.0 L2205.3 624.7 L2158.7 634.7 L2120.3 644.7 L2092.0 654.7Z M1427.7 314.7 L1437.7 328.0 L1441.0 334.7 L1451.0 351.3 L1447.7 361.3 L1437.7 371.3 L1431.0 378.0 L1424.3 364.7 L1421.0 351.3 L1424.3 334.7Z M1297.7 181.3 L1337.7 181.3 L1347.7 198.0 L1351.0 211.3 L1361.0 228.0 L1364.3 238.0 L1361.0 254.7 L1364.3 274.7 L1351.0 288.0 L1341.0 278.0 L1341.0 254.7 L1341.0 234.7 L1331.0 221.3 L1327.7 201.3 L1307.7 191.3Z M1221.0 181.3 L1234.3 204.7 L1257.7 204.7 L1267.7 208.0 L1274.3 234.7 L1271.0 244.7 L1284.3 264.7 L1297.7 281.3 L1294.3 294.7 L1281.0 298.0 L1274.3 284.7 L1267.7 254.7 L1261.0 241.3 L1257.7 218.0 L1244.3 208.0 L1234.3 209.7 L1226.0 204.7Z M1654 310a14 24 0 1 0 28 0a14 24 0 1 0 -28 0Z M2032 476a18 6 0 1 0 36 0a18 6 0 1 0 -36 0Z M2086 578a7 11 0 1 0 14 0a7 11 0 1 0 -14 0Z M2205 292a20 9 0 1 0 40 0a20 9 0 1 0 -40 0Z M2319 261a11 7 0 1 0 22 0a11 7 0 1 0 -22 0Z M2162 380a8 14 0 1 0 16 0a8 14 0 1 0 -16 0Z M2011 328a14 6 0 1 0 28 0a14 6 0 1 0 -28 0Z M1474 240a7 7 0 1 0 14 0a7 7 0 1 0 -14 0Z M1547 243a20 5 0 1 0 40 0a20 5 0 1 0 -40 0Z M2202 403a6 8 0 1 0 12 0a6 8 0 1 0 -12 0Z M1865 375a8 5 0 1 0 16 0a8 5 0 1 0 -16 0Z M1960 718a7 6 0 1 0 14 0a7 6 0 1 0 -14 0Z"/>
<path fill="#000" d="M2196 1817a5 4 0 1 0 10 0a5 4 0 1 0 -10 0Z M2207 1810a5 6 0 1 0 10 0a5 6 0 1 0 -10 0Z M2218 1805a5 6 0 1 0 10 0a5 6 0 1 0 -10 0Z M2234 1798a8 4.5 0 1 0 16 0a8 4.5 0 1 0 -16 0Z M2250 1790a4 3.5 0 1 0 8 0a4 3.5 0 1 0 -8 0Z M2609 414a3 6 0 1 0 6 0a3 6 0 1 0 -6 0Z M2744 186a4 7 0 1 0 8 0a4 7 0 1 0 -8 0Z M297 204a6 5 0 1 0 12 0a6 5 0 1 0 -12 0Z M304 211a5 4 0 1 0 10 0a5 4 0 1 0 -10 0Z M295 196a3 6 0 1 0 6 0a3 6 0 1 0 -6 0Z"/>
<path fill="none" stroke="#000" stroke-width="4.2" stroke-linejoin="round" stroke-linecap="round" d="M235.0 178.0 L257.0 195.0 L278.0 215.0 L290.0 211.0 L293.0 198.0 L287.0 178.0 M317.5 178.0 L321.8 186.7 L323.6 199.8 L326.2 204.1 L323.6 217.2 L319.2 221.5 L321.8 230.2 L323.6 252.0 L317.5 260.7 L311.4 269.4 L307.0 282.4 L295.7 295.5 L287.0 298.1 L275.7 291.1 L287.0 284.2 L295.7 273.7 L287.0 278.1 L275.7 278.1 L278.3 272.0 L295.7 258.1 L306.2 252.8 L304.4 238.9 L295.7 238.0 L291.4 232.0 L278.3 228.5 L260.9 221.5 L252.2 214.6 L236.6 197.1 M235.0 198.0 L236.6 197.1 L228.7 217.2 L227.9 230.2 L231.3 247.6 L227.9 265.0 L227.0 286.8 L239.2 290.3 L225.2 292.0 L224.4 299.8 L227.9 306.8 L223.3 318.0 L216.7 328.0 L206.7 364.7 L193.3 394.7 L176.7 431.3 L160.0 471.3 L146.7 484.7 L126.7 508.0 L121.7 516.3 L121.7 528.0 L116.7 541.3 L115.0 558.0 L120.0 569.7 L113.3 581.3 L113.3 601.3 L101.7 621.3 L90.0 639.7 L80.0 651.3 L76.7 664.7 L80.0 676.0 L88.3 696.0 L86.7 709.3 L80.0 722.7 L78.3 742.7 L75.0 754.3 L83.4 780.0 L92.8 788.7 L92.8 798.7 L96.1 803.4 L96.8 812.1 L86.7 817.5 L93.4 817.5 L98.8 825.5 L106.8 833.5 L102.8 843.6 L100.8 853.6 L101.5 863.7 L98.8 872.4 L102.1 880.0 L105.0 882.7 L116.7 894.3 L120.0 906.0 L115.0 914.3 L108.3 919.3 L106.7 932.7 L113.3 949.3 L120.0 972.7 L130.0 992.7 L136.7 1002.7 L133.3 1012.7 L140.0 1022.7 L135.0 1036.0 L131.7 1054.3 L136.7 1062.7 L156.7 1067.7 L176.7 1079.3 L193.3 1096.0 L196.7 1106.0 L210.0 1112.7 L226.7 1121.0 L228.3 1132.7 L226.7 1137.7 L236.7 1141.0 L246.7 1152.7 L260.0 1169.3 L263.3 1174.0 L265.0 1177.5 L269.0 1192.5 L269.0 1205.0 L265.0 1217.5 L269.0 1227.5 L270.0 1240.0 L275.0 1260.0 L282.5 1275.0 L277.5 1285.0 L287.5 1315.0 L287.5 1330.0 L295.0 1345.0 L292.5 1370.0 L300.0 1380.0 L297.5 1402.5 L302.5 1417.5 L320.0 1440.0 L332.5 1447.5 L350.0 1475.0 L365.0 1507.5 L367.5 1520.0 L360.0 1532.5 L350.0 1545.0 L330.0 1550.0 L305.0 1542.5 L310.0 1555.0 L312.5 1560.0 L327.5 1577.5 L330.0 1587.5 L345.0 1597.5 L360.0 1612.5 L367.5 1630.0 L390.0 1625.0 L395.0 1622.5 L395.0 1642.5 L410.0 1662.5 L430.0 1677.5 L437.5 1705.0 L437.5 1725.0 L430.0 1745.0 L420.0 1765.0 L425.0 1785.0 L445.0 1790.0 L465.0 1810.0 L480.0 1825.0 L500.0 1855.0 L515.0 1867.5 L522.5 1905.0 L527.5 1915.0 L550.0 1905.0 L565.0 1885.0 L555.0 1870.0 L550.0 1850.0 L540.0 1835.0 L527.5 1820.0 L517.5 1832.5 L502.5 1815.0 L502.5 1790.0 L510.0 1780.0 L495.0 1735.0 L487.5 1720.0 L485.0 1695.0 L482.5 1665.0 L470.0 1645.0 L460.0 1630.0 L450.0 1610.0 L447.5 1595.0 L432.5 1577.5 L430.0 1560.0 L430.0 1535.0 L420.0 1530.0 L415.0 1505.0 L405.0 1495.0 L402.5 1475.0 L385.0 1450.0 L370.0 1430.0 L360.0 1405.0 L365.0 1382.5 L365.0 1365.0 L362.5 1340.0 L370.0 1315.0 L372.5 1297.5 L380.0 1305.0 L400.0 1325.0 L417.5 1325.0 L432.5 1347.5 L460.0 1362.5 L452.5 1390.0 L457.5 1410.0 L460.0 1440.0 L470.0 1470.0 L472.5 1485.0 L475.0 1500.0 L487.5 1525.0 L495.0 1545.0 L507.5 1555.0 L510.0 1560.0 L522.5 1582.5 L552.5 1595.0 L545.0 1615.0 L552.5 1632.5 L577.5 1650.0 L580.0 1670.0 L597.5 1677.5 L610.0 1695.0 L612.5 1707.5 L595.0 1720.0 L592.5 1742.5 L605.0 1752.5 L622.5 1760.0 L630.0 1770.0 L655.0 1790.0 L650.0 1797.5 L662.5 1815.0 L675.0 1832.5 L687.5 1845.0 L710.0 1870.0 L727.5 1900.0 L737.5 1920.0 L750.0 1941.0 M1263.3 1941.0 L1266.7 1900.0 L1273.3 1866.7 L1283.3 1833.3 L1293.3 1813.3 L1300.0 1793.3 L1293.3 1763.3 L1286.7 1733.3 L1286.7 1713.3 L1293.3 1696.7 L1306.7 1676.7 L1320.0 1660.0 L1343.3 1643.3 L1366.7 1628.3 L1383.3 1620.0 L1400.0 1610.0 L1416.7 1596.7 L1433.3 1583.3 L1450.0 1570.0 L1473.3 1558.3 L1493.3 1553.3 L1516.7 1551.7 L1533.3 1555.0 L1550.0 1561.7 L1573.3 1563.3 L1584.3 1557.3 L1594.3 1547.3 L1604.3 1550.7 L1617.7 1562.3 L1627.7 1564.0 L1634.3 1577.3 L1657.7 1586.7 L1667.7 1575.7 L1681.0 1577.3 L1687.7 1585.7 L1694.3 1577.3 L1694.3 1560.7 L1707.7 1567.3 L1721.0 1572.3 L1737.7 1577.3 L1751.0 1579.0 L1741.0 1587.3 L1731.0 1579.0 L1717.7 1560.7 L1714.3 1550.7 L1727.7 1540.7 L1731.0 1527.3 L1721.0 1524.0 L1707.7 1520.7 L1731.0 1507.3 L1754.3 1499.0 L1774.3 1500.7 L1794.3 1497.3 L1801.0 1480.7 L1807.7 1494.0 L1827.7 1499.0 L1844.3 1494.0 L1854.3 1484.0 L1861.0 1490.7 L1877.7 1487.3 L1891.0 1482.3 L1904.3 1484.0 L1921.0 1490.7 L1931.0 1494.0 L1941.0 1507.3 L1951.0 1520.7 L1961.0 1524.0 L1981.0 1514.0 L2001.0 1504.0 L2005.7 1494.0 L2019.0 1489.0 L2039.0 1495.7 L2065.7 1524.0 L2082.3 1534.0 L2099.0 1544.0 L2107.3 1554.0 L2109.0 1577.3 L2107.3 1600.7 L2105.7 1620.7 L2115.7 1627.3 L2119.0 1614.0 L2129.0 1617.3 L2122.3 1634.0 L2117.3 1640.7 L2129.0 1654.0 L2142.3 1672.0 L2145.7 1673.3 L2155.7 1675.0 L2162.3 1670.0 L2162.3 1686.7 L2169.0 1700.0 L2179.0 1713.3 L2189.0 1726.7 L2209.0 1733.3 L2219.0 1746.7 L2232.3 1760.0 L2239.0 1766.7 L2252.3 1766.7 L2269.0 1760.0 L2275.7 1750.0 L2274.0 1733.3 L2279.0 1716.7 L2279.0 1680.0 L2275.7 1656.7 L2269.0 1640.0 L2262.3 1633.3 L2245.7 1606.7 L2232.3 1583.3 L2219.0 1560.0 L2205.7 1536.7 L2189.0 1516.7 L2179.0 1500.0 L2172.3 1484.0 L2165.7 1467.3 L2155.7 1447.3 L2149.0 1427.3 L2147.3 1407.3 L2150.7 1390.7 L2155.7 1374.0 L2159.0 1354.0 L2165.7 1340.7 L2172.3 1324.0 L2175.7 1307.3 L2185.7 1307.3 L2199.0 1297.3 L2209.0 1284.0 L2222.3 1270.7 L2239.0 1254.0 L2237.3 1247.3 L2244.0 1230.7 L2252.3 1214.0 L2262.3 1204.0 L2275.7 1199.0 L2292.3 1194.0 L2300.7 1174.0 L2295.5 1180.0 L2300.9 1168.2 L2311.6 1152.2 L2314.3 1144.1 L2330.3 1138.8 L2351.7 1138.8 L2359.8 1130.7 L2367.8 1114.7 L2375.8 1101.3 L2386.5 1093.3 L2395.9 1087.9 L2395.9 1074.5 L2389.2 1058.5 L2378.5 1045.1 L2365.1 1026.3 L2354.4 1007.6 L2346.4 994.2 L2346.4 978.1 L2351.7 967.4 L2357.1 946.0 L2359.8 929.9 L2365.1 908.5 L2367.8 892.4 L2365.1 879.1 L2357.1 868.4 L2343.7 855.0 L2335.7 841.6 L2327.6 828.2 L2330.3 833.5 L2341.0 841.6 L2357.1 844.3 L2365.1 849.6 L2367.8 860.3 L2373.2 846.9 L2381.2 830.9 L2389.2 817.5 L2393.2 801.4 L2392.0 786.0 L2388.7 769.3 L2378.7 759.3 L2375.3 752.7 L2392.0 747.7 L2422.0 732.7 L2472.0 699.3 L2478.7 696.0 L2465.3 696.0 L2422.0 716.0 L2388.7 736.0 L2382.0 729.3 L2405.3 712.7 L2438.7 696.0 L2478.7 676.0 L2480.0 676.0 L2483.3 661.3 L2493.3 654.7 L2506.7 644.7 L2520.0 636.3 L2533.3 639.7 L2543.3 631.3 L2543.3 618.0 L2530.0 613.0 L2523.3 618.0 L2530.0 624.7 L2520.0 629.7 L2510.0 624.7 L2496.7 618.0 L2483.3 611.3 L2488.3 598.0 L2495.0 589.7 L2486.7 584.7 L2480.0 574.7 L2481.7 561.3 L2485.0 544.7 L2490.0 528.0 L2493.3 514.7 L2500.0 508.0 L2510.0 498.0 L2520.0 488.0 L2530.0 478.0 L2535.0 464.7 L2536.7 454.7 L2550.0 461.3 L2560.0 454.7 L2573.3 444.7 L2583.3 434.7 L2593.3 424.7 L2601.7 418.0 L2603.3 411.3 L2593.3 398.0 L2585.2 391.6 L2598.8 391.6 L2618.3 383.8 L2629.9 370.2 L2641.6 364.4 L2657.1 345.0 L2668.7 331.4 L2674.6 317.8 L2672.6 310.0 L2680.4 312.0 L2688.2 310.0 L2684.3 325.6 L2678.4 345.0 L2684.3 341.1 L2695.9 339.2 L2711.5 331.4 L2734.8 321.7 L2725.0 331.4 L2713.4 343.0 L2713.4 352.8 L2703.7 348.9 L2692.0 345.0 L2680.4 360.5 L2668.7 378.0 L2661.0 391.6 L2653.2 405.2 L2647.4 420.7 L2645.4 430.4 L2651.3 442.1 L2662.9 453.7 L2676.5 461.5 L2684.3 463.4 L2695.9 457.6 L2699.8 446.0 L2707.6 430.4 L2713.4 416.8 L2721.2 397.4 L2723.1 381.9 L2730.9 374.1 L2744.5 374.1 L2748.3 364.4 L2761.9 354.7 L2773.6 343.0 L2789.1 325.6 L2804.7 310.0 L2820.0 294.5 M2699.8 290.6 L2686.2 288.7 L2668.7 290.6 L2653.2 271.2 L2641.6 259.6 L2639.6 251.8 L2624.1 255.7 L2620.2 251.8 L2628.0 234.3 L2628.0 209.1 L2624.1 209.1 L2608.5 211.0 L2598.8 226.5 L2587.2 216.8 L2571.7 213.0 L2560.0 214.9 L2543.0 224.0 L2545.0 218.0 L2560.0 211.0 L2571.7 203.2 L2595.0 203.2 L2606.6 195.5 L2614.4 181.9 L2616.3 178.0 L2806.6 178.0 L2798.8 189.7 L2795.0 216.8 L2793.0 246.0 L2798.8 265.4 L2812.4 271.2 L2820.0 269.3 L2808.5 273.1 L2793.0 277.0 L2779.4 271.2 L2769.7 288.7 L2754.2 292.6 L2734.8 296.5 L2715.3 300.3 L2695.9 298.4 L2699.8 290.6 M2282.0 500.0 L2305.0 468.0 L2322.0 445.0 L2335.0 411.0 L2359.0 381.0 L2372.0 370.0 L2395.0 351.0 L2405.0 335.0 L2418.0 305.0 L2428.0 278.0 L2436.0 255.0 L2448.0 218.0 L2458.0 190.0 L2463.0 178.0 M2503.0 178.0 L2490.0 200.0 L2470.0 228.0 L2452.0 255.0 L2440.0 278.0 L2426.0 311.0 L2407.0 341.0 L2390.0 355.0 L2366.0 378.0 L2343.0 408.0 L2326.0 441.0 L2313.0 465.0 L2290.0 498.0 M2235.0 561.0 L2259.0 531.0 L2282.0 500.0 M2372.0 256.0 L2398.0 254.0 L2425.0 258.0 M1955.0 193.0 L1968.0 178.0 M1992.0 178.0 L2018.0 203.0 M106.8 833.5 L111.5 820.2 L118.2 818.2 L123.5 822.8 L130.2 825.5 L134.9 826.2 L140.3 829.5 L157.0 837.6 L150.3 833.5 L133.6 828.2 L115.5 829.5 L116.9 840.2 L120.2 850.3 L120.2 861.7 L113.5 853.6 L110.2 846.9 L110.2 838.2 L106.8 833.5 M2346.4 978.1 L2343.7 967.4 L2345.0 940.6 L2349.1 924.6 L2338.4 919.2 L2330.3 908.5 L2319.6 911.2 L2311.6 895.1 L2311.6 887.1 L2322.3 892.4 L2308.9 881.7 L2306.2 860.3 L2308.9 838.9 L2316.9 833.5 L2327.6 828.2 M2316.9 833.5 L2306.2 836.2 L2295.5 849.6 L2287.5 860.3 L2292.8 873.7 L2303.5 887.1 L2298.2 900.5 L2314.3 924.6 L2322.3 940.6 L2325.0 962.1 L2330.3 983.5 L2346.4 994.2 M2330.3 983.5 L2325.0 991.5 L2316.9 988.8 L2311.6 983.5 L2282.1 983.5 M2266.1 881.7 L2271.4 892.4 L2263.4 905.8 L2266.1 921.9 L2276.8 916.5 L2295.5 924.6 L2314.3 929.9 M2276.8 932.6 L2295.5 943.3 L2314.3 956.7 L2322.3 951.3 M2303.5 967.4 L2319.6 978.1 L2325.0 980.8 M2325.0 1045.1 L2327.6 1058.5 L2343.7 1053.1 L2359.8 1037.0 L2365.1 1053.1 L2362.4 1066.5 L2375.8 1061.1 L2373.2 1077.2 L2365.1 1087.9 L2351.7 1090.6 L2341.0 1085.2 L2335.7 1090.6 L2316.9 1087.9 M2343.7 1098.6 L2343.7 1112.0 L2322.3 1112.0 L2335.7 1120.0 L2357.1 1117.3 L2365.1 1114.7 M2327.6 828.2 L2333.0 812.1 L2343.7 801.4 L2354.4 788.0 L2357.1 780.0 M308.8 226.0 L314.0 235.0 L316.0 245.0 L313.0 256.0 M300.0 240.0 L304.0 250.0 L302.0 262.0 M216.7 328.0 L238.0 333.0 L250.0 346.3 M2670.7 236.3 L2676.5 251.8 L2692.0 263.4 L2699.8 259.6 L2721.2 257.6 L2740.6 246.0 L2761.9 238.3 L2750.3 255.7 L2754.2 271.2 L2740.6 277.0 L2730.9 271.2 L2715.3 277.0 L2699.8 275.1 L2686.2 273.1 L2678.4 267.3 L2666.8 267.3 L2664.9 255.7 L2670.7 236.3 M2335.7 1651.7 L2352.3 1660.0 L2372.3 1646.7 L2394.0 1640.0 L2392.3 1635.0 L2359.0 1643.3 L2355.7 1640.0 L2335.7 1651.7 M2392.3 1625.0 L2412.3 1621.7 L2429.0 1633.3 L2445.7 1646.7 L2449.0 1653.3 L2442.3 1666.7 L2445.7 1680.0 L2432.3 1673.3 L2439.0 1660.0 L2432.3 1640.0 L2415.7 1630.0 L2392.3 1625.0 M2399.0 1735.0 L2412.3 1738.3 L2429.0 1760.0 L2435.7 1770.0 L2432.3 1780.0 L2422.3 1790.0 L2409.0 1780.0 L2395.7 1776.7 L2402.3 1760.0 L2399.0 1735.0 M2425.7 1790.0 L2442.3 1786.7 L2455.7 1800.0 L2459.0 1820.0 L2445.7 1821.7 L2432.3 1803.3 L2425.7 1790.0 M2729.0 1933.3 L2762.3 1905.0 L2765.7 1920.0 L2732.3 1936.7 L2729.0 1933.3 M2115.7 1941.3 L2139.0 1933.3 L2165.7 1923.3 L2199.0 1908.3 L2232.3 1906.7 L2245.7 1901.7 L2252.3 1905.0 L2285.7 1898.3 L2302.3 1905.0 L2319.0 1901.7 L2335.7 1905.0 L2349.0 1906.7 L2359.0 1916.7 L2375.7 1926.7 L2399.0 1921.7 L2415.7 1921.7 L2445.7 1930.0 L2465.7 1940.0 L2472.3 1941.3 L2472.0 1960.0 L2115.0 1960.0 L2115.7 1941.3 M462.0 1487.0 L475.0 1488.0 L476.0 1500.0 L470.0 1518.0 L458.0 1515.0 L455.0 1500.0 L462.0 1487.0 M408.0 1452.0 L415.0 1456.0 L418.0 1468.0 L425.0 1478.0 L426.0 1490.0 L420.0 1488.0 L412.0 1472.0 L406.0 1460.0 L408.0 1452.0 M300.0 1505.0 L304.0 1510.0 L303.0 1525.0 L292.0 1530.0 L290.0 1524.0 L297.0 1515.0 L300.0 1505.0 M345.0 1545.0 L352.0 1550.0 L355.0 1563.0 L348.0 1565.0 L343.0 1555.0 L345.0 1545.0 M2479.0 1693.3 L2505.7 1703.3 L2519.0 1713.3 L2522.3 1743.3 L2512.3 1733.3 M2549.0 1733.3 L2579.0 1760.0 M2545.7 1803.3 L2572.3 1811.7 M2589.0 1793.3 L2609.0 1820.0 L2629.0 1836.7 M2660.7 1830.0 L2689.0 1833.3 L2692.3 1846.7 L2672.3 1870.0 M2735.7 1836.7 L2762.3 1838.3 M2792.3 1860.0 L2805.7 1856.7 M2405.7 1910.0 L2425.7 1906.7 L2442.3 1913.3 L2465.7 1926.7 L2479.0 1936.7 M142 1420a5 10 0 1 0 10 0a5 10 0 1 0 -10 0Z M130 1094a10 4 0 1 0 20 0a10 4 0 1 0 -20 0Z M153 1101a10 3 0 1 0 20 0a10 3 0 1 0 -20 0Z M156 1149a4 3 0 1 0 8 0a4 3 0 1 0 -8 0Z M212 1156a5 5 0 1 0 10 0a5 5 0 1 0 -10 0Z M203 1185a4 8 0 1 0 8 0a4 8 0 1 0 -8 0Z M462 1655a5 10 0 1 0 10 0a5 10 0 1 0 -10 0Z M490 1708a5 7 0 1 0 10 0a5 7 0 1 0 -10 0Z M507 1775a5 7 0 1 0 10 0a5 7 0 1 0 -10 0Z M544 1830a4 7 0 1 0 8 0a4 7 0 1 0 -8 0Z M2437 1735a8 3 0 1 0 16 0a8 3 0 1 0 -16 0Z M2621.7 1753.3a4 5 0 1 0 8 0a4 5 0 1 0 -8 0Z"/>
<path fill="none" stroke="#000" stroke-width="7" stroke-linecap="round" d="M2261.0 1785.0 L2266.0 1775.0 L2273.0 1760.0"/>
<path fill="none" stroke="#000" stroke-width="4.1" stroke-dasharray="9,2.4" d="M323.3 189.7 L413.3 221.3 L500.0 244.7 L540.0 259.0 L653.3 286.3 L816.7 321.3 L851.0 327.0 L1051.0 356.3 L1157.7 366.3 L1317.7 373.0 L1407.7 374.7 L1409.3 349.7 L1421.0 354.7 L1424.3 378.0 L1429.3 389.7 L1454.3 394.7 L1467.7 402.0 L1484.3 394.7 L1504.3 399.7 L1517.7 408.0 L1521.0 415.3 L1534.3 413.0 L1557.7 426.3 L1581.0 416.3 L1594.3 423.0 L1614.3 421.3 L1627.7 426.3 L1637.7 424.7 L1657.0 418.0 L1687.0 405.5 L1737.0 428.0 L1787.0 448.0 L1837.0 470.5 L1857.0 488.0 L1867.0 498.0 L1882.0 518.0 L1907.0 528.0 L1947.0 548.0 L1972.0 588.0 L1982.0 628.0 L1982.0 678.0 L1977.0 698.0 L1972.0 718.0 L1962.0 738.0 L1957.0 763.0 L1980.0 760.0 L2000.0 752.0 L2040.0 735.0 L2080.0 712.0 L2110.0 695.0 L2128.0 680.0 L2100.0 655.0 L2120.0 640.0 L2160.0 620.0 L2200.0 600.0 L2237.0 580.0 L2258.0 550.0 L2282.0 500.0 L2338.7 483.0 L2410.3 463.0 L2418.7 444.7 L2427.0 431.3 L2442.0 408.0 L2448.7 394.7 L2443.7 374.7 L2447.0 344.7 L2445.3 328.0 L2456.7 293.0 L2470.0 293.0 L2478.3 301.3 L2490.0 291.3 L2500.0 284.7 L2520.0 291.3 L2530.0 311.3 L2540.0 334.7 L2550.0 364.7 L2563.3 369.7 L2570.0 378.0 L2576.7 391.3 L2586.7 398.0 M269.0 1227.5 L310.0 1235.0 L350.0 1242.5 L400.0 1250.0 L390.0 1255.0 L385.0 1260.0 L420.0 1284.0 L566.7 1375.7 L620.0 1385.7 L671.7 1394.0 L715.0 1402.3 L721.7 1375.7 L800.0 1385.7 L805.0 1374.0 L808.3 1384.0 L813.3 1389.0 L825.0 1407.3 L840.0 1420.7 L856.7 1440.7 L880.0 1464.0 L886.7 1474.0 L893.3 1500.7 L895.0 1527.3 L910.0 1540.7 L926.7 1557.3 L946.7 1570.7 L966.7 1582.3 L980.0 1574.0 L993.3 1550.7 L1006.7 1537.3 L1025.0 1532.3 L1036.7 1539.0 L1070.0 1542.0 L1080.0 1553.3 L1093.3 1563.3 L1106.7 1581.7 L1116.7 1603.3 L1125.0 1623.3 L1130.0 1640.0 L1146.7 1663.3 L1165.0 1683.3 L1168.3 1693.3 L1170.0 1720.0 L1180.0 1733.3 L1185.0 1756.7 L1200.0 1763.3 L1213.3 1771.7 L1233.3 1783.3 L1253.3 1788.3 L1266.7 1790.0 L1283.3 1798.3 L1300.0 1793.3"/>
<path fill="none" stroke="#000" stroke-width="4.0" stroke-dasharray="6.2,4.8" d="M1539.5 510.5 L1562.0 493.0 L1592.0 458.0 L1622.0 438.0 L1652.0 418.0 L1662.0 398.0 L1682.0 368.0 L1712.0 365.5 L1757.0 368.0 L1777.0 398.0 L1797.0 413.0 L1827.0 410.5 L1829.5 433.0 L1844.5 448.0 L1842.0 468.0 L1857.0 473.0 L1852.0 493.0 L1837.0 488.0 L1797.0 483.0 L1762.0 503.0 L1742.0 508.0 L1727.0 498.0 L1727.0 483.0 L1712.0 478.0 L1692.0 483.0 L1692.0 468.0 L1714.5 453.0 L1697.0 450.5 L1677.0 465.5 L1662.0 478.0 L1642.0 493.0 L1622.0 503.0 L1602.0 510.5 L1592.0 508.0 L1562.0 505.5 L1542.0 512.0 L1539.5 510.5 M1807.0 533.0 L1862.0 530.5 L1847.0 548.0 L1822.0 563.0 L1812.0 578.0 L1802.0 593.0 L1792.0 613.0 L1787.0 648.0 L1792.0 678.0 L1802.0 703.0 L1812.0 728.0 L1807.0 758.0 L1792.0 783.0 L1777.0 800.5 L1762.0 798.0 L1747.0 778.0 L1742.0 753.0 L1737.0 718.0 L1734.5 678.0 L1737.0 648.0 L1742.0 618.0 L1747.0 588.0 L1752.0 568.0 L1762.0 558.0 L1782.0 548.0 L1807.0 533.0 M1897.0 500.0 L1907.0 503.0 L1952.0 500.5 L1982.0 500.5 L2012.0 503.0 L2032.0 518.0 L2052.0 538.0 L2067.0 558.0 L2062.0 583.0 L2042.0 578.0 L2012.0 573.0 L2002.0 593.0 L1997.0 618.0 L2002.0 653.0 L1992.0 678.0 L1977.0 683.0 L1967.0 678.0 L1962.0 638.0 L1942.0 630.5 L1922.0 638.0 L1907.0 658.0 L1902.0 648.0 L1917.0 618.0 L1917.0 593.0 L1912.0 568.0 L1897.0 558.0 L1890.0 545.0 L1897.0 530.0 L1897.0 500.0 M1952.0 756.0 L1965.3 752.7 L1982.0 742.7 L2005.3 729.3 L2038.7 712.7 L2072.0 696.0 L2102.0 686.0 L2122.0 676.0 L2135.3 676.0 L2118.7 696.0 L2102.0 712.7 L2072.0 732.7 L2035.3 756.0 L2005.3 772.7 L1985.3 782.7 L1965.3 786.0 L1952.0 776.0 L1952.0 756.0 M2088.7 648.0 L2102.0 624.7 L2145.3 601.3 L2198.7 581.3 L2235.3 561.3 L2238.7 598.0 L2205.3 624.7 L2158.7 634.7 L2120.3 644.7 L2092.0 654.7 L2088.7 648.0"/>
<path fill="none" stroke="#000" stroke-width="4.0" stroke-dasharray="6.2,4.8" d="M237.4 191.0 L265.0 205.0 L293.1 221.5 L300.0 205.0 L304.4 186.7 L308.8 179.7 M250.0 346.3 L256.7 351.3 L256.7 381.3 L280.0 393.0 L296.7 391.3 L316.7 401.3 L323.3 406.3 L356.7 409.7 L383.3 408.0 L413.3 411.3 L498.3 434.7 M541.7 259.7 L498.3 411.3 L498.3 434.7 M498.3 434.7 L510.0 461.3 L496.7 481.3 L473.3 508.0 L461.7 521.3 L466.7 541.3 L456.7 561.3 L443.3 604.7 L430.0 664.7 L430.0 668.0 M580.0 271.3 L563.3 328.0 L571.7 361.3 L580.0 378.0 L596.7 414.7 L613.3 424.7 L600.0 444.7 L596.7 468.0 L590.0 481.3 L596.7 491.3 L613.3 484.7 L620.0 491.3 L626.7 541.3 L640.0 554.7 L643.3 571.3 L656.7 568.0 L670.0 568.0 L700.0 574.7 L708.3 568.0 L716.7 576.3 L726.7 554.7 M726.7 553.0 L851.3 574.7 L1027.7 598.0 M726.7 554.7 L703.3 676.0 L690.0 729.3 L683.3 791.0 M118.3 569.7 L296.7 629.7 L430.0 668.0 L446.7 676.0 L560.0 704.3 L690.0 729.3 M296.7 629.7 L286.7 676.0 L245.0 804.3 L430.0 1109.3 L435.0 1125.0 L437.5 1145.0 L445.0 1155.0 L430.0 1170.0 L425.0 1180.0 L420.0 1197.5 L405.0 1212.5 L402.5 1225.0 L410.0 1237.5 L405.0 1250.0 M430.0 1109.3 L443.3 1042.7 L450.0 1044.3 L466.7 1056.0 L480.0 1042.7 L490.0 999.3 M560.0 704.3 L490.0 999.3 M490.0 999.3 L730.0 1047.7 L851.3 1066.0 L1026.0 1089.3 L1074.3 1091.0 L1437.7 1106.0 M770.0 807.7 L730.0 1047.5 L670.0 1394.0 M683.3 791.0 L770.0 807.7 L851.3 821.0 L1001.0 839.3 L1092.7 849.3 L1089.3 909.3 L1074.3 1091.0 M1089.3 909.3 L1401.0 922.7 M1027.7 598.0 L1019.3 676.0 L1001.0 839.3 M1053.7 358.0 L1027.7 598.0 M1034.0 540.0 L1351.0 559.7 M1014.3 719.3 L1264.3 736.0 L1284.3 747.7 L1311.0 746.0 L1344.3 759.3 L1354.3 772.7 L1366.0 799.3 L1367.7 826.0 L1377.7 842.7 L1379.3 876.0 L1384.3 889.3 L1397.7 916.0 L1417.7 929.3 L1414.3 949.3 L1434.3 972.7 L1437.7 1106.0 L1441.0 1174.0 L1447.7 1207.3 L1447.7 1310.7 L1471.0 1317.3 L1472.7 1414.0 L1487.7 1440.7 L1501.0 1472.3 L1491.0 1507.3 L1491.0 1534.0 L1484.3 1550.7 M1327.7 376.3 L1331.0 428.0 L1339.3 458.0 L1341.0 514.7 L1351.0 544.7 L1349.3 568.0 L1337.7 578.0 L1344.3 591.3 L1354.3 599.7 L1354.3 676.0 L1352.7 709.3 L1349.3 709.3 L1347.7 719.3 L1351.0 729.3 L1344.3 752.7 L1354.3 772.7 M1349.3 709.3 L1581.0 702.7 M1529.5 518.0 L1532.0 548.0 L1507.7 561.3 L1506.0 578.0 L1514.3 591.3 L1512.7 631.3 L1524.3 641.3 L1544.3 651.3 L1561.0 668.0 L1574.3 676.0 L1581.0 702.7 L1589.3 716.0 L1591.0 742.7 L1607.7 756.0 L1617.7 762.7 L1637.7 789.3 L1631.0 816.0 L1601.0 832.7 L1604.3 852.7 L1594.3 876.0 L1582.7 892.7 L1581.0 909.3 L1587.7 932.7 L1614.3 956.0 L1627.7 979.3 L1651.0 986.0 L1644.3 1016.0 L1664.3 1036.0 L1672.0 1042.7 L1688.7 1056.0 L1692.0 1076.0 L1705.3 1089.3 L1708.7 1106.0 L1698.7 1122.7 L1685.3 1136.0 L1678.7 1162.7 L1674.3 1174.0 L1664.3 1217.3 L1644.3 1240.7 L1631.0 1267.3 L1624.3 1290.7 L1621.0 1324.0 L1621.0 1345.7 L1627.7 1380.7 L1636.0 1387.3 L1621.0 1414.0 L1614.3 1427.3 L1602.7 1470.7 L1701.0 1465.7 L1704.3 1484.0 L1717.7 1514.0 M1384.3 884.3 L1567.7 879.3 L1582.7 892.7 M1617.7 762.7 L1672.3 757.7 L1742.0 752.7 M1612.0 518.0 L1677.0 543.0 L1707.0 548.0 L1722.0 568.0 L1732.0 593.0 M1758.7 802.7 L1772.0 936.0 L1768.7 956.0 L1778.7 972.7 L1758.7 1009.3 L1755.3 1039.3 L1772.0 1032.7 L1785.3 1027.7 L1802.0 1034.3 L1815.3 1022.7 L1828.7 1026.0 L1838.7 1009.3 L1855.3 1016.0 L1868.7 996.0 L1878.7 969.3 L1892.0 969.3 L1905.3 959.3 L1902.0 942.7 M1795.3 791.0 L1882.0 782.7 L1942.0 774.3 M1882.0 782.7 L1902.0 942.7 L1918.7 939.3 L1935.3 952.7 L1958.7 961.0 L1978.7 959.3 L1998.7 952.7 L2015.3 966.0 L2015.3 986.0 L2032.0 1002.7 L2048.7 1016.0 L2058.7 1029.3 L2072.0 1034.3 L2092.0 1024.3 L2108.7 1016.0 L2132.0 1006.0 L2135.3 989.3 L2152.0 932.7 L2168.7 936.0 L2178.7 912.7 L2198.7 889.3 L2202.0 866.0 M2015.3 966.0 L2035.3 932.7 L2045.3 916.0 L2058.7 902.7 L2078.7 886.0 L2082.0 876.0 L2085.3 822.7 L2068.7 736.0 M2085.3 822.7 L2097.0 872.7 L2325.3 812.7 L2335.3 869.3 L2338.7 899.3 L2365.3 892.7 M2145.3 862.7 L2152.0 889.3 L2172.0 872.7 L2202.0 866.0 L2232.0 872.7 L2272.0 886.0 M2108.7 726.0 L2222.0 702.7 L2295.3 686.0 L2312.0 696.0 L2335.3 716.0 L2378.7 726.0 M2335.3 716.0 L2325.3 742.7 L2328.7 762.7 L2355.3 786.0 L2328.7 816.0 M1978.7 1086.0 L2072.0 1071.0 L2348.7 1016.0 M1762.0 1107.7 L1978.7 1086.0 M1978.7 1086.0 L2005.3 1069.3 L2025.3 1042.7 L2045.3 1016.0 M2075.3 1071.0 L2072.0 1092.7 L2048.7 1109.3 L2025.3 1122.7 L2015.3 1136.0 L1985.3 1149.3 L1968.7 1174.0 L1960.0 1190.0 M2035.3 1174.0 L2055.3 1161.0 L2122.0 1154.3 L2138.7 1166.0 L2195.3 1161.0 L2212.3 1174.0 L2262.3 1204.0 M1664.3 1217.3 L1771.0 1210.7 L1894.3 1197.3 L1960.0 1190.0 L2009.0 1180.7 M1771.0 1210.7 L1767.7 1374.0 L1781.0 1494.0 M1894.3 1197.3 L1924.3 1274.0 L1951.0 1360.7 L1947.7 1400.7 L1957.7 1440.7 L1967.7 1457.3 M1821.0 1454.0 L1957.7 1440.7 M1821.0 1454.0 L1831.0 1484.0 M1967.7 1457.3 L1999.0 1454.0 L2062.3 1449.0 L2112.3 1444.0 L2122.3 1430.7 L2145.7 1427.3 M2009.0 1180.7 L2012.3 1197.3 L2039.0 1210.7 L2059.0 1234.0 L2082.3 1254.0 L2099.0 1267.3 L2119.0 1284.0 L2132.3 1307.3 L2145.7 1320.7 L2155.7 1337.3 M1471.0 1350.7 L1621.0 1345.7 M1241.0 1282.3 L1261.0 1280.7 L1274.3 1295.7 L1287.7 1290.7 L1307.7 1300.7 L1321.0 1294.0 L1351.0 1307.3 L1367.7 1297.3 L1391.0 1294.0 L1407.7 1292.3 L1427.7 1307.3 L1447.7 1310.7 M1437.7 1136.0 L1657.7 1127.7 L1664.3 1142.7 L1651.0 1159.3 L1676.0 1160.0 M1022.5 1120.0 L1170.0 1130.0 L1165.0 1247.5 L1170.0 1250.0 L1180.0 1260.0 L1200.0 1260.0 L1205.0 1270.0 L1230.0 1275.0 L1245.0 1281.0 L1262.0 1280.0 M1025.0 1090.0 L1022.5 1120.0 L995.0 1395.0 L805.0 1372.5 M2338.7 483.0 L2352.0 544.7 L2378.7 614.7 L2385.3 676.0 L2392.0 706.0 L2378.7 726.0 M2415.3 464.7 L2420.3 491.3 L2405.3 511.3 L2402.0 594.7 L2408.7 604.7 M2428.7 441.3 L2452.0 511.3 L2465.3 544.7 L2478.7 558.0 M2378.7 614.7 L2420.0 608.0 L2463.3 594.7 L2480.0 578.0 M2385.3 658.0 L2420.0 651.3 L2453.3 641.3 L2473.3 634.7 L2483.3 648.0 M2456.7 641.3 L2466.7 676.0 M633.3 181.3 L646.7 194.7 L648.3 221.3 L640.0 248.0 L646.7 264.7 L656.7 286.3 M843.3 181.3 L816.7 321.3 M1162.7 178.0 L1159.3 361.3 M1408.3 178.0 L1408.3 374.7 M2008.7 201.3 L2025.3 278.0 L2038.7 328.0 L2048.7 398.0 L2058.7 421.3 L2092.0 458.0 L2105.3 461.3 L2142.0 461.3 L2158.7 471.3 L2172.0 478.0 L2182.0 471.3 L2198.7 488.0 L2222.0 488.0 L2245.3 474.7 L2272.0 463.0 L2288.7 464.7 L2287.0 481.3 M2460.0 291.3 L2486.7 293.0 L2500.0 284.7 L2490.0 271.3 L2486.7 251.3 L2506.7 241.3 L2520.0 243.0 L2543.3 228.0"/>
</g>
<rect x="30.4" y="178.5" width="2790.1" height="1762.8" fill="none" stroke="#000" stroke-width="2.9"/>
<rect x="2994.5" y="1597.60" width="74.0" height="135.00" fill="#053061"/>
<rect x="2994.5" y="1463.20" width="74.0" height="135.00" fill="#256baf"/>
<rect x="2994.5" y="1328.80" width="74.0" height="135.00" fill="#559ec9"/>
<rect x="2994.5" y="1194.40" width="74.0" height="135.00" fill="#a7d0e4"/>
<rect x="2994.5" y="1060.00" width="74.0" height="135.00" fill="#e2edf3"/>
<rect x="2994.5" y="925.60" width="74.0" height="135.00" fill="#fae7dc"/>
<rect x="2994.5" y="791.20" width="74.0" height="135.00" fill="#f7b799"/>
<rect x="2994.5" y="656.80" width="74.0" height="135.00" fill="#dd6f59"/>
<rect x="2994.5" y="522.40" width="74.0" height="135.00" fill="#b6202f"/>
<rect x="2994.5" y="388.00" width="74.0" height="135.00" fill="#67001f"/>
<polygon points="2994.5,388 3031.5,320 3068.5,388" fill="#67001f"/>
<polygon points="2994.5,1732 3031.5,1800 3068.5,1732" fill="#053061"/>
<polygon points="2994.5,388 3031.5,320 3068.5,388 3068.5,1732 3031.5,1800 2994.5,1732" fill="none" stroke="#000" stroke-width="3.3" stroke-linejoin="miter"/>
<g font-family="DejaVu Sans, Liberation Sans, sans-serif" font-size="41.67" fill="#000">
<line x1="3068.5" y1="1732.0" x2="3083.1" y2="1732.0" stroke="#000" stroke-width="3.3"/>
<text x="3097" y="1747.2">0.0</text>
<line x1="3068.5" y1="1597.6" x2="3083.1" y2="1597.6" stroke="#000" stroke-width="3.3"/>
<text x="3097" y="1612.8">0.1</text>
<line x1="3068.5" y1="1463.2" x2="3083.1" y2="1463.2" stroke="#000" stroke-width="3.3"/>
<text x="3097" y="1478.4">0.2</text>
<line x1="3068.5" y1="1328.8" x2="3083.1" y2="1328.8" stroke="#000" stroke-width="3.3"/>
<text x="3097" y="1344.0">0.3</text>
<line x1="3068.5" y1="1194.4" x2="3083.1" y2="1194.4" stroke="#000" stroke-width="3.3"/>
<text x="3097" y="1209.6">0.4</text>
<line x1="3068.5" y1="1060.0" x2="3083.1" y2="1060.0" stroke="#000" stroke-width="3.3"/>
<text x="3097" y="1075.2">0.5</text>
<line x1="3068.5" y1="925.6" x2="3083.1" y2="925.6" stroke="#000" stroke-width="3.3"/>
<text x="3097" y="940.8">0.6</text>
<line x1="3068.5" y1="791.2" x2="3083.1" y2="791.2" stroke="#000" stroke-width="3.3"/>
<text x="3097" y="806.4">0.7</text>
<line x1="3068.5" y1="656.8" x2="3083.1" y2="656.8" stroke="#000" stroke-width="3.3"/>
<text x="3097" y="672.0">0.8</text>
<line x1="3068.5" y1="522.4" x2="3083.1" y2="522.4" stroke="#000" stroke-width="3.3"/>
<text x="3097" y="537.6">0.9</text>
<line x1="3068.5" y1="388.0" x2="3083.1" y2="388.0" stroke="#000" stroke-width="3.3"/>
<text x="3097" y="403.2">1.0</text>
<text transform="translate(3211,1061) rotate(-90)" text-anchor="middle">Hit Rate</text>
</g>
</svg>
</body></html>
